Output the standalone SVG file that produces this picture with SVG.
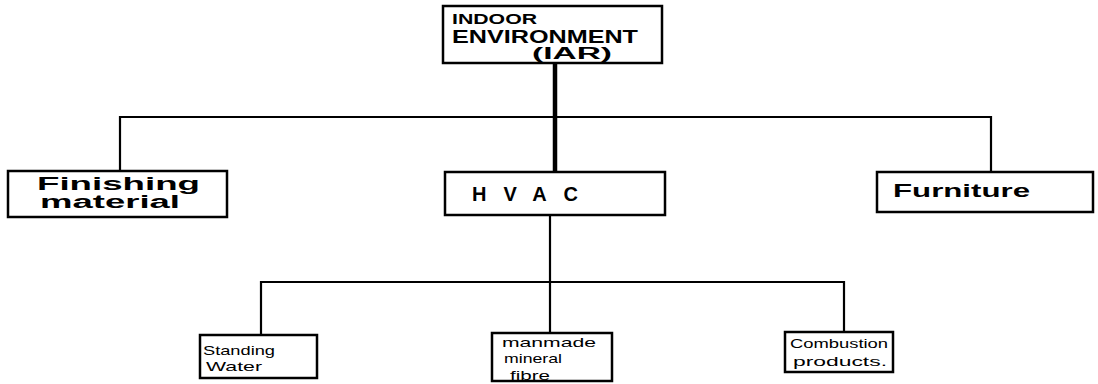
<svg xmlns="http://www.w3.org/2000/svg" width="1098" height="384" viewBox="0 0 1098 384">
<style>
.box{fill:#fff;stroke:#000;stroke-width:2.5}
.ln{fill:none;stroke:#000;stroke-width:2.2}
.t{font-family:"Liberation Sans",Arial,sans-serif;font-weight:bold;fill:#000}
.s{font-weight:normal;font-size:13px}
</style>
<rect width="1098" height="384" fill="#fff"/>
<g id="connectors">
<line class="ln" x1="555" y1="63" x2="555" y2="172" style="stroke-width:4.5"/>
<polyline class="ln" points="120,170 120,117 991,117 991,172"/>
<line class="ln" x1="550" y1="215" x2="550" y2="333"/>
<polyline class="ln" points="261,335 261,282 844,282 844,332"/>
</g>
<g id="indoor">
<rect class="box" x="443" y="6" width="219" height="57"/>
<text class="t" x="452" y="24" font-size="14" textLength="85" lengthAdjust="spacingAndGlyphs">INDOOR</text>
<text class="t" x="452" y="43" font-size="19" textLength="186" lengthAdjust="spacingAndGlyphs">ENVIRONMENT</text>
<text class="t" x="532" y="59" font-size="16" textLength="80" lengthAdjust="spacingAndGlyphs">(IAR)</text>
</g>
<g id="finishing">
<rect class="box" x="8" y="171" width="219" height="46"/>
<text class="t" x="37" y="190" font-size="18" textLength="163" lengthAdjust="spacingAndGlyphs">Finishing</text>
<text class="t" x="40" y="208" font-size="18" textLength="140" lengthAdjust="spacingAndGlyphs">material</text>
</g>
<g id="hvac">
<rect class="box" x="445" y="172" width="220" height="43"/>
<text class="t" x="472" y="201" font-size="20" textLength="106" lengthAdjust="spacing">HVAC</text>
</g>
<g id="furniture">
<rect class="box" x="877" y="172" width="216" height="40"/>
<text class="t" x="893" y="197" font-size="19" textLength="137" lengthAdjust="spacingAndGlyphs">Furniture</text>
</g>
<g id="standing">
<rect class="box" x="200" y="335" width="117" height="43"/>
<text class="t s" x="203" y="355" textLength="72" lengthAdjust="spacingAndGlyphs">Standing</text>
<text class="t s" x="206" y="371" textLength="56" lengthAdjust="spacingAndGlyphs">Water</text>
</g>
<g id="mineral">
<rect class="box" x="492" y="333" width="120" height="48"/>
<text class="t s" x="502" y="347" textLength="94" lengthAdjust="spacingAndGlyphs">manmade</text>
<text class="t s" x="504" y="363" textLength="58" lengthAdjust="spacingAndGlyphs">mineral</text>
<text class="t s" x="510" y="380" textLength="40" lengthAdjust="spacingAndGlyphs">fibre</text>
</g>
<g id="combustion">
<rect class="box" x="785" y="332" width="108" height="40"/>
<text class="t s" x="790" y="348" textLength="98" lengthAdjust="spacingAndGlyphs">Combustion</text>
<text class="t s" x="793" y="366" textLength="94" lengthAdjust="spacingAndGlyphs">products.</text>
</g>
</svg>
